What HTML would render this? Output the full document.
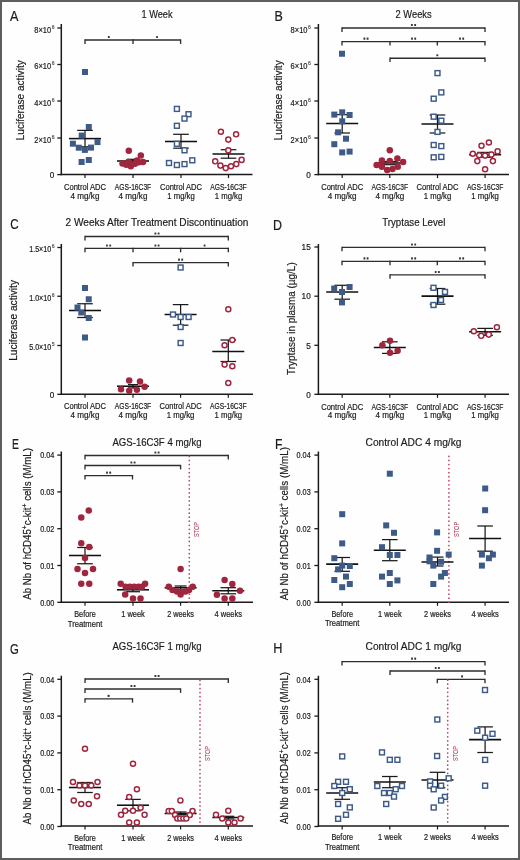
<!DOCTYPE html>
<html><head><meta charset="utf-8"><title>Figure</title>
<style>
html,body{margin:0;padding:0;background:#fff;}
body{width:520px;height:860px;overflow:hidden;}
.fig{position:relative;width:516px;height:856px;border:2px solid #5e5e5e;background:#fefefe;}
svg{position:absolute;left:-2px;top:-2px;will-change:transform;}
svg text{font-family:"Liberation Sans", sans-serif;stroke-width:0.2px;}
</style></head>
<body><div class="fig">
<svg width="520" height="860" viewBox="0 0 520 860">
<text x="9.9" y="21.0" font-size="14.5" textLength="8.4" lengthAdjust="spacingAndGlyphs" fill="#1c1c1c" stroke="#1c1c1c">A</text>
<text x="157" y="17.7" font-size="11.5" text-anchor="middle" textLength="31" lengthAdjust="spacingAndGlyphs" fill="#1c1c1c" stroke="#1c1c1c">1 Week</text>
<line x1="61.3" y1="24" x2="61.3" y2="175.2" stroke="#1a1a1a" stroke-width="1.5"/>
<line x1="60.599999999999994" y1="174.6" x2="252.5" y2="174.6" stroke="#1a1a1a" stroke-width="1.5"/>
<line x1="57.3" y1="28" x2="61.3" y2="28" stroke="#1a1a1a" stroke-width="1.3"/>
<text x="51.199999999999996" y="32.6" font-size="8.2" text-anchor="end" textLength="16.9" lengthAdjust="spacingAndGlyphs" fill="#1c1c1c" stroke="#1c1c1c">8×10</text>
<text x="54.5" y="28.9" font-size="5.0" text-anchor="end" fill="#555" stroke="#555">6</text>
<line x1="57.3" y1="64.5" x2="61.3" y2="64.5" stroke="#1a1a1a" stroke-width="1.3"/>
<text x="51.199999999999996" y="69.1" font-size="8.2" text-anchor="end" textLength="16.9" lengthAdjust="spacingAndGlyphs" fill="#1c1c1c" stroke="#1c1c1c">6×10</text>
<text x="54.5" y="65.4" font-size="5.0" text-anchor="end" fill="#555" stroke="#555">6</text>
<line x1="57.3" y1="101" x2="61.3" y2="101" stroke="#1a1a1a" stroke-width="1.3"/>
<text x="51.199999999999996" y="105.6" font-size="8.2" text-anchor="end" textLength="16.9" lengthAdjust="spacingAndGlyphs" fill="#1c1c1c" stroke="#1c1c1c">4×10</text>
<text x="54.5" y="101.9" font-size="5.0" text-anchor="end" fill="#555" stroke="#555">6</text>
<line x1="57.3" y1="138" x2="61.3" y2="138" stroke="#1a1a1a" stroke-width="1.3"/>
<text x="51.199999999999996" y="142.6" font-size="8.2" text-anchor="end" textLength="16.9" lengthAdjust="spacingAndGlyphs" fill="#1c1c1c" stroke="#1c1c1c">2×10</text>
<text x="54.5" y="138.9" font-size="5.0" text-anchor="end" fill="#555" stroke="#555">6</text>
<line x1="57.3" y1="174.6" x2="61.3" y2="174.6" stroke="#1a1a1a" stroke-width="1.3"/>
<text x="54.4" y="177.79999999999998" font-size="8.2" text-anchor="end" fill="#1c1c1c" stroke="#1c1c1c">0</text>
<line x1="85" y1="174.6" x2="85" y2="178.1" stroke="#1a1a1a" stroke-width="1.2"/>
<line x1="133" y1="174.6" x2="133" y2="178.1" stroke="#1a1a1a" stroke-width="1.2"/>
<line x1="181" y1="174.6" x2="181" y2="178.1" stroke="#1a1a1a" stroke-width="1.2"/>
<line x1="228.5" y1="174.6" x2="228.5" y2="178.1" stroke="#1a1a1a" stroke-width="1.2"/>
<text x="24.3" y="100.3" font-size="10.5" text-anchor="middle" textLength="80" lengthAdjust="spacingAndGlyphs" transform="rotate(-90 24.3 100.3)" fill="#1c1c1c" stroke="#1c1c1c">Luciferase activity</text>
<text x="85" y="190.1" font-size="8.8" text-anchor="middle" textLength="42" lengthAdjust="spacingAndGlyphs" fill="#1c1c1c" stroke="#1c1c1c">Control ADC</text>
<text x="85" y="198.7" font-size="8.8" text-anchor="middle" textLength="28.8" lengthAdjust="spacingAndGlyphs" fill="#1c1c1c" stroke="#1c1c1c">4 mg/kg</text>
<text x="133" y="190.1" font-size="8.8" text-anchor="middle" textLength="36.4" lengthAdjust="spacingAndGlyphs" fill="#1c1c1c" stroke="#1c1c1c">AGS-16C3F</text>
<text x="133" y="198.7" font-size="8.8" text-anchor="middle" textLength="28.8" lengthAdjust="spacingAndGlyphs" fill="#1c1c1c" stroke="#1c1c1c">4 mg/kg</text>
<text x="181" y="190.1" font-size="8.8" text-anchor="middle" textLength="42" lengthAdjust="spacingAndGlyphs" fill="#1c1c1c" stroke="#1c1c1c">Control ADC</text>
<text x="181" y="198.7" font-size="8.8" text-anchor="middle" textLength="27.5" lengthAdjust="spacingAndGlyphs" fill="#1c1c1c" stroke="#1c1c1c">1 mg/kg</text>
<text x="228.5" y="190.1" font-size="8.8" text-anchor="middle" textLength="36.4" lengthAdjust="spacingAndGlyphs" fill="#1c1c1c" stroke="#1c1c1c">AGS-16C3F</text>
<text x="228.5" y="198.7" font-size="8.8" text-anchor="middle" textLength="27.5" lengthAdjust="spacingAndGlyphs" fill="#1c1c1c" stroke="#1c1c1c">1 mg/kg</text>
<line x1="85" y1="40" x2="180.6" y2="40" stroke="#2e2e2e" stroke-width="1.35"/>
<line x1="85" y1="39.35" x2="85" y2="43.9" stroke="#2e2e2e" stroke-width="1.35"/>
<line x1="180.6" y1="39.35" x2="180.6" y2="43.9" stroke="#2e2e2e" stroke-width="1.35"/>
<line x1="133" y1="39.35" x2="133" y2="43.9" stroke="#2e2e2e" stroke-width="1.35"/>
<rect x="107.85" y="36.00" width="1.9" height="2.1" rx="0.5" fill="#3a3a3a"/>
<rect x="156.05" y="36.00" width="1.9" height="2.1" rx="0.5" fill="#3a3a3a"/>
<line x1="85" y1="130.4" x2="85" y2="146.8" stroke="#1a1a1a" stroke-width="1.25"/>
<line x1="77.2" y1="130.4" x2="92.8" y2="130.4" stroke="#1a1a1a" stroke-width="1.25"/>
<line x1="77.2" y1="146.8" x2="92.8" y2="146.8" stroke="#1a1a1a" stroke-width="1.25"/>
<line x1="69" y1="138.6" x2="101" y2="138.6" stroke="#111" stroke-width="1.55"/>
<line x1="133" y1="159.3" x2="133" y2="162.8" stroke="#1a1a1a" stroke-width="1.25"/>
<line x1="127" y1="159.3" x2="139" y2="159.3" stroke="#1a1a1a" stroke-width="1.25"/>
<line x1="127" y1="162.8" x2="139" y2="162.8" stroke="#1a1a1a" stroke-width="1.25"/>
<line x1="117" y1="161" x2="149" y2="161" stroke="#111" stroke-width="1.55"/>
<line x1="181" y1="134.3" x2="181" y2="148.2" stroke="#1a1a1a" stroke-width="1.25"/>
<line x1="173.2" y1="134.3" x2="188.8" y2="134.3" stroke="#1a1a1a" stroke-width="1.25"/>
<line x1="173.2" y1="148.2" x2="188.8" y2="148.2" stroke="#1a1a1a" stroke-width="1.25"/>
<line x1="165" y1="141.5" x2="197" y2="141.5" stroke="#111" stroke-width="1.55"/>
<line x1="228.5" y1="149.7" x2="228.5" y2="158.2" stroke="#1a1a1a" stroke-width="1.25"/>
<line x1="220.7" y1="149.7" x2="236.3" y2="149.7" stroke="#1a1a1a" stroke-width="1.25"/>
<line x1="220.7" y1="158.2" x2="236.3" y2="158.2" stroke="#1a1a1a" stroke-width="1.25"/>
<line x1="212.5" y1="153.9" x2="244.5" y2="153.9" stroke="#111" stroke-width="1.55"/>
<text x="274.4" y="21.0" font-size="14.5" textLength="8.3" lengthAdjust="spacingAndGlyphs" fill="#1c1c1c" stroke="#1c1c1c">B</text>
<text x="413.6" y="17.7" font-size="11.5" text-anchor="middle" textLength="36.1" lengthAdjust="spacingAndGlyphs" fill="#1c1c1c" stroke="#1c1c1c">2 Weeks</text>
<line x1="318.4" y1="24" x2="318.4" y2="175.2" stroke="#1a1a1a" stroke-width="1.5"/>
<line x1="317.7" y1="174.6" x2="509" y2="174.6" stroke="#1a1a1a" stroke-width="1.5"/>
<line x1="314.4" y1="28" x2="318.4" y2="28" stroke="#1a1a1a" stroke-width="1.3"/>
<text x="307.49999999999994" y="32.6" font-size="8.2" text-anchor="end" textLength="16.9" lengthAdjust="spacingAndGlyphs" fill="#1c1c1c" stroke="#1c1c1c">8×10</text>
<text x="310.79999999999995" y="28.9" font-size="5.0" text-anchor="end" fill="#555" stroke="#555">6</text>
<line x1="314.4" y1="64.5" x2="318.4" y2="64.5" stroke="#1a1a1a" stroke-width="1.3"/>
<text x="307.49999999999994" y="69.1" font-size="8.2" text-anchor="end" textLength="16.9" lengthAdjust="spacingAndGlyphs" fill="#1c1c1c" stroke="#1c1c1c">6×10</text>
<text x="310.79999999999995" y="65.4" font-size="5.0" text-anchor="end" fill="#555" stroke="#555">6</text>
<line x1="314.4" y1="101" x2="318.4" y2="101" stroke="#1a1a1a" stroke-width="1.3"/>
<text x="307.49999999999994" y="105.6" font-size="8.2" text-anchor="end" textLength="16.9" lengthAdjust="spacingAndGlyphs" fill="#1c1c1c" stroke="#1c1c1c">4×10</text>
<text x="310.79999999999995" y="101.9" font-size="5.0" text-anchor="end" fill="#555" stroke="#555">6</text>
<line x1="314.4" y1="138" x2="318.4" y2="138" stroke="#1a1a1a" stroke-width="1.3"/>
<text x="307.49999999999994" y="142.6" font-size="8.2" text-anchor="end" textLength="16.9" lengthAdjust="spacingAndGlyphs" fill="#1c1c1c" stroke="#1c1c1c">2×10</text>
<text x="310.79999999999995" y="138.9" font-size="5.0" text-anchor="end" fill="#555" stroke="#555">6</text>
<line x1="314.4" y1="174.6" x2="318.4" y2="174.6" stroke="#1a1a1a" stroke-width="1.3"/>
<text x="310.7" y="177.79999999999998" font-size="8.2" text-anchor="end" fill="#1c1c1c" stroke="#1c1c1c">0</text>
<line x1="342.2" y1="174.6" x2="342.2" y2="178.1" stroke="#1a1a1a" stroke-width="1.2"/>
<line x1="389.8" y1="174.6" x2="389.8" y2="178.1" stroke="#1a1a1a" stroke-width="1.2"/>
<line x1="437.5" y1="174.6" x2="437.5" y2="178.1" stroke="#1a1a1a" stroke-width="1.2"/>
<line x1="485.1" y1="174.6" x2="485.1" y2="178.1" stroke="#1a1a1a" stroke-width="1.2"/>
<text x="281.8" y="100.3" font-size="10.5" text-anchor="middle" textLength="80" lengthAdjust="spacingAndGlyphs" transform="rotate(-90 281.8 100.3)" fill="#1c1c1c" stroke="#1c1c1c">Luciferase activity</text>
<text x="342.2" y="189.9" font-size="8.8" text-anchor="middle" textLength="42" lengthAdjust="spacingAndGlyphs" fill="#1c1c1c" stroke="#1c1c1c">Control ADC</text>
<text x="342.2" y="198.5" font-size="8.8" text-anchor="middle" textLength="28.8" lengthAdjust="spacingAndGlyphs" fill="#1c1c1c" stroke="#1c1c1c">4 mg/kg</text>
<text x="389.8" y="189.9" font-size="8.8" text-anchor="middle" textLength="36.4" lengthAdjust="spacingAndGlyphs" fill="#1c1c1c" stroke="#1c1c1c">AGS-16C3F</text>
<text x="389.8" y="198.5" font-size="8.8" text-anchor="middle" textLength="28.8" lengthAdjust="spacingAndGlyphs" fill="#1c1c1c" stroke="#1c1c1c">4 mg/kg</text>
<text x="437.5" y="189.9" font-size="8.8" text-anchor="middle" textLength="42" lengthAdjust="spacingAndGlyphs" fill="#1c1c1c" stroke="#1c1c1c">Control ADC</text>
<text x="437.5" y="198.5" font-size="8.8" text-anchor="middle" textLength="27.5" lengthAdjust="spacingAndGlyphs" fill="#1c1c1c" stroke="#1c1c1c">1 mg/kg</text>
<text x="485.1" y="189.9" font-size="8.8" text-anchor="middle" textLength="36.4" lengthAdjust="spacingAndGlyphs" fill="#1c1c1c" stroke="#1c1c1c">AGS-16C3F</text>
<text x="485.1" y="198.5" font-size="8.8" text-anchor="middle" textLength="27.5" lengthAdjust="spacingAndGlyphs" fill="#1c1c1c" stroke="#1c1c1c">1 mg/kg</text>
<line x1="342" y1="28" x2="485" y2="28" stroke="#2e2e2e" stroke-width="1.35"/>
<line x1="342" y1="27.35" x2="342" y2="31.9" stroke="#2e2e2e" stroke-width="1.35"/>
<line x1="485" y1="27.35" x2="485" y2="31.9" stroke="#2e2e2e" stroke-width="1.35"/>
<rect x="410.95" y="24.00" width="1.9" height="2.1" rx="0.5" fill="#3a3a3a"/>
<rect x="414.15" y="24.00" width="1.9" height="2.1" rx="0.5" fill="#3a3a3a"/>
<line x1="342" y1="41.6" x2="485" y2="41.6" stroke="#2e2e2e" stroke-width="1.35"/>
<line x1="342" y1="40.95" x2="342" y2="45.5" stroke="#2e2e2e" stroke-width="1.35"/>
<line x1="485" y1="40.95" x2="485" y2="45.5" stroke="#2e2e2e" stroke-width="1.35"/>
<line x1="390" y1="40.95" x2="390" y2="45.5" stroke="#2e2e2e" stroke-width="1.35"/>
<line x1="437.3" y1="40.95" x2="437.3" y2="45.5" stroke="#2e2e2e" stroke-width="1.35"/>
<rect x="363.45" y="37.60" width="1.9" height="2.1" rx="0.5" fill="#3a3a3a"/>
<rect x="366.65" y="37.60" width="1.9" height="2.1" rx="0.5" fill="#3a3a3a"/>
<rect x="411.05" y="37.60" width="1.9" height="2.1" rx="0.5" fill="#3a3a3a"/>
<rect x="414.25" y="37.60" width="1.9" height="2.1" rx="0.5" fill="#3a3a3a"/>
<rect x="459.05" y="37.60" width="1.9" height="2.1" rx="0.5" fill="#3a3a3a"/>
<rect x="462.25" y="37.60" width="1.9" height="2.1" rx="0.5" fill="#3a3a3a"/>
<line x1="390" y1="58.2" x2="485" y2="58.2" stroke="#2e2e2e" stroke-width="1.35"/>
<line x1="390" y1="57.550000000000004" x2="390" y2="62.1" stroke="#2e2e2e" stroke-width="1.35"/>
<line x1="485" y1="57.550000000000004" x2="485" y2="62.1" stroke="#2e2e2e" stroke-width="1.35"/>
<rect x="436.35" y="54.20" width="1.9" height="2.1" rx="0.5" fill="#3a3a3a"/>
<line x1="342.2" y1="114.6" x2="342.2" y2="133" stroke="#1a1a1a" stroke-width="1.25"/>
<line x1="334.4" y1="114.6" x2="350.0" y2="114.6" stroke="#1a1a1a" stroke-width="1.25"/>
<line x1="334.4" y1="133" x2="350.0" y2="133" stroke="#1a1a1a" stroke-width="1.25"/>
<line x1="326.2" y1="123.5" x2="358.2" y2="123.5" stroke="#111" stroke-width="1.55"/>
<line x1="389.8" y1="161.5" x2="389.8" y2="164.7" stroke="#1a1a1a" stroke-width="1.25"/>
<line x1="382.0" y1="161.5" x2="397.6" y2="161.5" stroke="#1a1a1a" stroke-width="1.25"/>
<line x1="382.0" y1="164.7" x2="397.6" y2="164.7" stroke="#1a1a1a" stroke-width="1.25"/>
<line x1="376.8" y1="163" x2="402.8" y2="163" stroke="#111" stroke-width="1.55"/>
<line x1="437.5" y1="115" x2="437.5" y2="133" stroke="#1a1a1a" stroke-width="1.25"/>
<line x1="429.7" y1="115" x2="445.3" y2="115" stroke="#1a1a1a" stroke-width="1.25"/>
<line x1="429.7" y1="133" x2="445.3" y2="133" stroke="#1a1a1a" stroke-width="1.25"/>
<line x1="421.5" y1="123.9" x2="453.5" y2="123.9" stroke="#111" stroke-width="1.55"/>
<line x1="485.1" y1="152.4" x2="485.1" y2="157.3" stroke="#1a1a1a" stroke-width="1.25"/>
<line x1="477.3" y1="152.4" x2="492.90000000000003" y2="152.4" stroke="#1a1a1a" stroke-width="1.25"/>
<line x1="477.3" y1="157.3" x2="492.90000000000003" y2="157.3" stroke="#1a1a1a" stroke-width="1.25"/>
<line x1="469.1" y1="154.8" x2="501.1" y2="154.8" stroke="#111" stroke-width="1.55"/>
<text x="10.3" y="229.3" font-size="14.5" textLength="8.4" lengthAdjust="spacingAndGlyphs" fill="#1c1c1c" stroke="#1c1c1c">C</text>
<text x="157" y="226.0" font-size="11.5" text-anchor="middle" textLength="182.8" lengthAdjust="spacingAndGlyphs" fill="#1c1c1c" stroke="#1c1c1c">2 Weeks After Treatment Discontinuation</text>
<line x1="61.3" y1="244" x2="61.3" y2="394.90000000000003" stroke="#1a1a1a" stroke-width="1.5"/>
<line x1="60.599999999999994" y1="394.3" x2="253" y2="394.3" stroke="#1a1a1a" stroke-width="1.5"/>
<line x1="57.3" y1="247.5" x2="61.3" y2="247.5" stroke="#1a1a1a" stroke-width="1.3"/>
<text x="51.199999999999996" y="252.1" font-size="8.2" text-anchor="end" textLength="22.0" lengthAdjust="spacingAndGlyphs" fill="#1c1c1c" stroke="#1c1c1c">1.5×10</text>
<text x="54.5" y="248.4" font-size="5.0" text-anchor="end" fill="#555" stroke="#555">6</text>
<line x1="57.3" y1="296.25" x2="61.3" y2="296.25" stroke="#1a1a1a" stroke-width="1.3"/>
<text x="51.199999999999996" y="300.85" font-size="8.2" text-anchor="end" textLength="22.0" lengthAdjust="spacingAndGlyphs" fill="#1c1c1c" stroke="#1c1c1c">1.0×10</text>
<text x="54.5" y="297.15" font-size="5.0" text-anchor="end" fill="#555" stroke="#555">6</text>
<line x1="57.3" y1="345.5" x2="61.3" y2="345.5" stroke="#1a1a1a" stroke-width="1.3"/>
<text x="51.199999999999996" y="350.1" font-size="8.2" text-anchor="end" textLength="22.0" lengthAdjust="spacingAndGlyphs" fill="#1c1c1c" stroke="#1c1c1c">5.0×10</text>
<text x="54.5" y="346.4" font-size="5.0" text-anchor="end" fill="#555" stroke="#555">5</text>
<line x1="57.3" y1="394.3" x2="61.3" y2="394.3" stroke="#1a1a1a" stroke-width="1.3"/>
<text x="54.4" y="397.5" font-size="8.2" text-anchor="end" fill="#1c1c1c" stroke="#1c1c1c">0</text>
<line x1="85" y1="394.3" x2="85" y2="397.8" stroke="#1a1a1a" stroke-width="1.2"/>
<line x1="133" y1="394.3" x2="133" y2="397.8" stroke="#1a1a1a" stroke-width="1.2"/>
<line x1="180.6" y1="394.3" x2="180.6" y2="397.8" stroke="#1a1a1a" stroke-width="1.2"/>
<line x1="228.3" y1="394.3" x2="228.3" y2="397.8" stroke="#1a1a1a" stroke-width="1.2"/>
<text x="17.3" y="320.4" font-size="10.5" text-anchor="middle" textLength="80.8" lengthAdjust="spacingAndGlyphs" transform="rotate(-90 17.3 320.4)" fill="#1c1c1c" stroke="#1c1c1c">Luciferase activity</text>
<text x="85" y="409.40000000000003" font-size="8.8" text-anchor="middle" textLength="42" lengthAdjust="spacingAndGlyphs" fill="#1c1c1c" stroke="#1c1c1c">Control ADC</text>
<text x="85" y="418.0" font-size="8.8" text-anchor="middle" textLength="28.8" lengthAdjust="spacingAndGlyphs" fill="#1c1c1c" stroke="#1c1c1c">4 mg/kg</text>
<text x="133" y="409.40000000000003" font-size="8.8" text-anchor="middle" textLength="36.4" lengthAdjust="spacingAndGlyphs" fill="#1c1c1c" stroke="#1c1c1c">AGS-16C3F</text>
<text x="133" y="418.0" font-size="8.8" text-anchor="middle" textLength="28.8" lengthAdjust="spacingAndGlyphs" fill="#1c1c1c" stroke="#1c1c1c">4 mg/kg</text>
<text x="180.6" y="409.40000000000003" font-size="8.8" text-anchor="middle" textLength="42" lengthAdjust="spacingAndGlyphs" fill="#1c1c1c" stroke="#1c1c1c">Control ADC</text>
<text x="180.6" y="418.0" font-size="8.8" text-anchor="middle" textLength="27.5" lengthAdjust="spacingAndGlyphs" fill="#1c1c1c" stroke="#1c1c1c">1 mg/kg</text>
<text x="228.3" y="409.40000000000003" font-size="8.8" text-anchor="middle" textLength="36.4" lengthAdjust="spacingAndGlyphs" fill="#1c1c1c" stroke="#1c1c1c">AGS-16C3F</text>
<text x="228.3" y="418.0" font-size="8.8" text-anchor="middle" textLength="27.5" lengthAdjust="spacingAndGlyphs" fill="#1c1c1c" stroke="#1c1c1c">1 mg/kg</text>
<line x1="85" y1="236.5" x2="228.3" y2="236.5" stroke="#2e2e2e" stroke-width="1.35"/>
<line x1="85" y1="235.85" x2="85" y2="240.4" stroke="#2e2e2e" stroke-width="1.35"/>
<line x1="228.3" y1="235.85" x2="228.3" y2="240.4" stroke="#2e2e2e" stroke-width="1.35"/>
<rect x="154.45" y="232.50" width="1.9" height="2.1" rx="0.5" fill="#3a3a3a"/>
<rect x="157.65" y="232.50" width="1.9" height="2.1" rx="0.5" fill="#3a3a3a"/>
<line x1="85" y1="248.4" x2="228.3" y2="248.4" stroke="#2e2e2e" stroke-width="1.35"/>
<line x1="85" y1="247.75" x2="85" y2="252.3" stroke="#2e2e2e" stroke-width="1.35"/>
<line x1="228.3" y1="247.75" x2="228.3" y2="252.3" stroke="#2e2e2e" stroke-width="1.35"/>
<line x1="133" y1="247.75" x2="133" y2="252.3" stroke="#2e2e2e" stroke-width="1.35"/>
<line x1="180.6" y1="247.75" x2="180.6" y2="252.3" stroke="#2e2e2e" stroke-width="1.35"/>
<rect x="106.05" y="244.40" width="1.9" height="2.1" rx="0.5" fill="#3a3a3a"/>
<rect x="109.25" y="244.40" width="1.9" height="2.1" rx="0.5" fill="#3a3a3a"/>
<rect x="154.45" y="244.40" width="1.9" height="2.1" rx="0.5" fill="#3a3a3a"/>
<rect x="157.65" y="244.40" width="1.9" height="2.1" rx="0.5" fill="#3a3a3a"/>
<rect x="203.65" y="244.40" width="1.9" height="2.1" rx="0.5" fill="#3a3a3a"/>
<line x1="133" y1="262.6" x2="228.3" y2="262.6" stroke="#2e2e2e" stroke-width="1.35"/>
<line x1="133" y1="261.95000000000005" x2="133" y2="266.5" stroke="#2e2e2e" stroke-width="1.35"/>
<line x1="228.3" y1="261.95000000000005" x2="228.3" y2="266.5" stroke="#2e2e2e" stroke-width="1.35"/>
<rect x="178.05" y="258.60" width="1.9" height="2.1" rx="0.5" fill="#3a3a3a"/>
<rect x="181.25" y="258.60" width="1.9" height="2.1" rx="0.5" fill="#3a3a3a"/>
<line x1="85" y1="303.75" x2="85" y2="317.5" stroke="#1a1a1a" stroke-width="1.25"/>
<line x1="77.2" y1="303.75" x2="92.8" y2="303.75" stroke="#1a1a1a" stroke-width="1.25"/>
<line x1="77.2" y1="317.5" x2="92.8" y2="317.5" stroke="#1a1a1a" stroke-width="1.25"/>
<line x1="69" y1="310.5" x2="101" y2="310.5" stroke="#111" stroke-width="1.55"/>
<line x1="133" y1="384.6" x2="133" y2="388" stroke="#1a1a1a" stroke-width="1.25"/>
<line x1="128" y1="384.6" x2="138" y2="384.6" stroke="#1a1a1a" stroke-width="1.25"/>
<line x1="128" y1="388" x2="138" y2="388" stroke="#1a1a1a" stroke-width="1.25"/>
<line x1="117" y1="386.2" x2="149" y2="386.2" stroke="#111" stroke-width="1.55"/>
<line x1="180.6" y1="304.6" x2="180.6" y2="325.2" stroke="#1a1a1a" stroke-width="1.25"/>
<line x1="172.79999999999998" y1="304.6" x2="188.4" y2="304.6" stroke="#1a1a1a" stroke-width="1.25"/>
<line x1="172.79999999999998" y1="325.2" x2="188.4" y2="325.2" stroke="#1a1a1a" stroke-width="1.25"/>
<line x1="164.6" y1="314.5" x2="196.6" y2="314.5" stroke="#111" stroke-width="1.55"/>
<line x1="228.3" y1="340" x2="228.3" y2="361.5" stroke="#1a1a1a" stroke-width="1.25"/>
<line x1="220.5" y1="340" x2="236.10000000000002" y2="340" stroke="#1a1a1a" stroke-width="1.25"/>
<line x1="220.5" y1="361.5" x2="236.10000000000002" y2="361.5" stroke="#1a1a1a" stroke-width="1.25"/>
<line x1="212.3" y1="351.4" x2="244.3" y2="351.4" stroke="#111" stroke-width="1.55"/>
<text x="273.0" y="229.6" font-size="14.5" textLength="9.0" lengthAdjust="spacingAndGlyphs" fill="#1c1c1c" stroke="#1c1c1c">D</text>
<text x="413.8" y="226.0" font-size="11.5" text-anchor="middle" textLength="63.2" lengthAdjust="spacingAndGlyphs" fill="#1c1c1c" stroke="#1c1c1c">Tryptase Level</text>
<line x1="318.4" y1="244" x2="318.4" y2="394.90000000000003" stroke="#1a1a1a" stroke-width="1.5"/>
<line x1="317.7" y1="394.3" x2="509" y2="394.3" stroke="#1a1a1a" stroke-width="1.5"/>
<line x1="314.4" y1="247" x2="318.4" y2="247" stroke="#1a1a1a" stroke-width="1.3"/>
<text x="310.7" y="250.2" font-size="8.2" text-anchor="end" fill="#1c1c1c" stroke="#1c1c1c">15</text>
<line x1="314.4" y1="296.2" x2="318.4" y2="296.2" stroke="#1a1a1a" stroke-width="1.3"/>
<text x="310.7" y="299.4" font-size="8.2" text-anchor="end" fill="#1c1c1c" stroke="#1c1c1c">10</text>
<line x1="314.4" y1="345.3" x2="318.4" y2="345.3" stroke="#1a1a1a" stroke-width="1.3"/>
<text x="310.7" y="348.5" font-size="8.2" text-anchor="end" fill="#1c1c1c" stroke="#1c1c1c">5</text>
<line x1="314.4" y1="394.3" x2="318.4" y2="394.3" stroke="#1a1a1a" stroke-width="1.3"/>
<text x="310.7" y="397.5" font-size="8.2" text-anchor="end" fill="#1c1c1c" stroke="#1c1c1c">0</text>
<line x1="342.2" y1="394.3" x2="342.2" y2="397.8" stroke="#1a1a1a" stroke-width="1.2"/>
<line x1="389.8" y1="394.3" x2="389.8" y2="397.8" stroke="#1a1a1a" stroke-width="1.2"/>
<line x1="437.5" y1="394.3" x2="437.5" y2="397.8" stroke="#1a1a1a" stroke-width="1.2"/>
<line x1="485.1" y1="394.3" x2="485.1" y2="397.8" stroke="#1a1a1a" stroke-width="1.2"/>
<text x="294.8" y="318.6" font-size="10.5" text-anchor="middle" textLength="112.6" lengthAdjust="spacingAndGlyphs" transform="rotate(-90 294.8 318.6)" fill="#1c1c1c" stroke="#1c1c1c">Tryptase in plasma (µg/L)</text>
<text x="342.2" y="409.8" font-size="8.8" text-anchor="middle" textLength="42" lengthAdjust="spacingAndGlyphs" fill="#1c1c1c" stroke="#1c1c1c">Control ADC</text>
<text x="342.2" y="418.4" font-size="8.8" text-anchor="middle" textLength="28.8" lengthAdjust="spacingAndGlyphs" fill="#1c1c1c" stroke="#1c1c1c">4 mg/kg</text>
<text x="389.8" y="409.8" font-size="8.8" text-anchor="middle" textLength="36.4" lengthAdjust="spacingAndGlyphs" fill="#1c1c1c" stroke="#1c1c1c">AGS-16C3F</text>
<text x="389.8" y="418.4" font-size="8.8" text-anchor="middle" textLength="28.8" lengthAdjust="spacingAndGlyphs" fill="#1c1c1c" stroke="#1c1c1c">4 mg/kg</text>
<text x="437.5" y="409.8" font-size="8.8" text-anchor="middle" textLength="42" lengthAdjust="spacingAndGlyphs" fill="#1c1c1c" stroke="#1c1c1c">Control ADC</text>
<text x="437.5" y="418.4" font-size="8.8" text-anchor="middle" textLength="27.5" lengthAdjust="spacingAndGlyphs" fill="#1c1c1c" stroke="#1c1c1c">1 mg/kg</text>
<text x="485.1" y="409.8" font-size="8.8" text-anchor="middle" textLength="36.4" lengthAdjust="spacingAndGlyphs" fill="#1c1c1c" stroke="#1c1c1c">AGS-16C3F</text>
<text x="485.1" y="418.4" font-size="8.8" text-anchor="middle" textLength="27.5" lengthAdjust="spacingAndGlyphs" fill="#1c1c1c" stroke="#1c1c1c">1 mg/kg</text>
<line x1="342" y1="247.4" x2="485" y2="247.4" stroke="#2e2e2e" stroke-width="1.35"/>
<line x1="342" y1="246.75" x2="342" y2="251.3" stroke="#2e2e2e" stroke-width="1.35"/>
<line x1="485" y1="246.75" x2="485" y2="251.3" stroke="#2e2e2e" stroke-width="1.35"/>
<rect x="411.05" y="243.40" width="1.9" height="2.1" rx="0.5" fill="#3a3a3a"/>
<rect x="414.25" y="243.40" width="1.9" height="2.1" rx="0.5" fill="#3a3a3a"/>
<line x1="342" y1="261.3" x2="485" y2="261.3" stroke="#2e2e2e" stroke-width="1.35"/>
<line x1="342" y1="260.65000000000003" x2="342" y2="265.2" stroke="#2e2e2e" stroke-width="1.35"/>
<line x1="485" y1="260.65000000000003" x2="485" y2="265.2" stroke="#2e2e2e" stroke-width="1.35"/>
<line x1="390" y1="260.65000000000003" x2="390" y2="265.2" stroke="#2e2e2e" stroke-width="1.35"/>
<line x1="437.3" y1="260.65000000000003" x2="437.3" y2="265.2" stroke="#2e2e2e" stroke-width="1.35"/>
<rect x="363.45" y="257.30" width="1.9" height="2.1" rx="0.5" fill="#3a3a3a"/>
<rect x="366.65" y="257.30" width="1.9" height="2.1" rx="0.5" fill="#3a3a3a"/>
<rect x="411.05" y="257.30" width="1.9" height="2.1" rx="0.5" fill="#3a3a3a"/>
<rect x="414.25" y="257.30" width="1.9" height="2.1" rx="0.5" fill="#3a3a3a"/>
<rect x="459.05" y="257.30" width="1.9" height="2.1" rx="0.5" fill="#3a3a3a"/>
<rect x="462.25" y="257.30" width="1.9" height="2.1" rx="0.5" fill="#3a3a3a"/>
<line x1="390" y1="274.9" x2="485" y2="274.9" stroke="#2e2e2e" stroke-width="1.35"/>
<line x1="390" y1="274.25" x2="390" y2="278.79999999999995" stroke="#2e2e2e" stroke-width="1.35"/>
<line x1="485" y1="274.25" x2="485" y2="278.79999999999995" stroke="#2e2e2e" stroke-width="1.35"/>
<rect x="434.75" y="270.90" width="1.9" height="2.1" rx="0.5" fill="#3a3a3a"/>
<rect x="437.95" y="270.90" width="1.9" height="2.1" rx="0.5" fill="#3a3a3a"/>
<line x1="342.2" y1="285.3" x2="342.2" y2="299.2" stroke="#1a1a1a" stroke-width="1.25"/>
<line x1="334.4" y1="285.3" x2="350.0" y2="285.3" stroke="#1a1a1a" stroke-width="1.25"/>
<line x1="334.4" y1="299.2" x2="350.0" y2="299.2" stroke="#1a1a1a" stroke-width="1.25"/>
<line x1="326.2" y1="292" x2="358.2" y2="292" stroke="#111" stroke-width="1.55"/>
<line x1="389.8" y1="341.8" x2="389.8" y2="353.4" stroke="#1a1a1a" stroke-width="1.25"/>
<line x1="382.0" y1="341.8" x2="397.6" y2="341.8" stroke="#1a1a1a" stroke-width="1.25"/>
<line x1="382.0" y1="353.4" x2="397.6" y2="353.4" stroke="#1a1a1a" stroke-width="1.25"/>
<line x1="373.8" y1="347.4" x2="405.8" y2="347.4" stroke="#111" stroke-width="1.55"/>
<line x1="437.5" y1="288.5" x2="437.5" y2="304.2" stroke="#1a1a1a" stroke-width="1.25"/>
<line x1="429.7" y1="288.5" x2="445.3" y2="288.5" stroke="#1a1a1a" stroke-width="1.25"/>
<line x1="429.7" y1="304.2" x2="445.3" y2="304.2" stroke="#1a1a1a" stroke-width="1.25"/>
<line x1="421.5" y1="296.1" x2="453.5" y2="296.1" stroke="#111" stroke-width="1.55"/>
<line x1="485.1" y1="328.4" x2="485.1" y2="335.3" stroke="#1a1a1a" stroke-width="1.25"/>
<line x1="477.3" y1="328.4" x2="492.90000000000003" y2="328.4" stroke="#1a1a1a" stroke-width="1.25"/>
<line x1="477.3" y1="335.3" x2="492.90000000000003" y2="335.3" stroke="#1a1a1a" stroke-width="1.25"/>
<line x1="469.1" y1="331.8" x2="501.1" y2="331.8" stroke="#111" stroke-width="1.55"/>
<text x="11.9" y="448.8" font-size="14.5" textLength="6.9" lengthAdjust="spacingAndGlyphs" fill="#1c1c1c" stroke="#1c1c1c">E</text>
<text x="157" y="445.8" font-size="11.5" text-anchor="middle" textLength="89.2" lengthAdjust="spacingAndGlyphs" fill="#1c1c1c" stroke="#1c1c1c">AGS-16C3F 4 mg/kg</text>
<line x1="61.3" y1="451.5" x2="61.3" y2="602.9" stroke="#1a1a1a" stroke-width="1.5"/>
<line x1="60.599999999999994" y1="602.3" x2="253" y2="602.3" stroke="#1a1a1a" stroke-width="1.5"/>
<line x1="57.3" y1="455.1" x2="61.3" y2="455.1" stroke="#1a1a1a" stroke-width="1.3"/>
<text x="54.4" y="458.3" font-size="8.2" text-anchor="end" textLength="14.2" lengthAdjust="spacingAndGlyphs" fill="#1c1c1c" stroke="#1c1c1c">0.04</text>
<line x1="57.3" y1="491.90000000000003" x2="61.3" y2="491.90000000000003" stroke="#1a1a1a" stroke-width="1.3"/>
<text x="54.4" y="495.1" font-size="8.2" text-anchor="end" textLength="14.2" lengthAdjust="spacingAndGlyphs" fill="#1c1c1c" stroke="#1c1c1c">0.03</text>
<line x1="57.3" y1="528.7" x2="61.3" y2="528.7" stroke="#1a1a1a" stroke-width="1.3"/>
<text x="54.4" y="531.9000000000001" font-size="8.2" text-anchor="end" textLength="14.2" lengthAdjust="spacingAndGlyphs" fill="#1c1c1c" stroke="#1c1c1c">0.02</text>
<line x1="57.3" y1="565.5" x2="61.3" y2="565.5" stroke="#1a1a1a" stroke-width="1.3"/>
<text x="54.4" y="568.7" font-size="8.2" text-anchor="end" textLength="14.2" lengthAdjust="spacingAndGlyphs" fill="#1c1c1c" stroke="#1c1c1c">0.01</text>
<line x1="57.3" y1="602.3" x2="61.3" y2="602.3" stroke="#1a1a1a" stroke-width="1.3"/>
<text x="54.4" y="605.5" font-size="8.2" text-anchor="end" textLength="14.2" lengthAdjust="spacingAndGlyphs" fill="#1c1c1c" stroke="#1c1c1c">0.00</text>
<line x1="85" y1="602.3" x2="85" y2="605.8" stroke="#1a1a1a" stroke-width="1.2"/>
<line x1="133" y1="602.3" x2="133" y2="605.8" stroke="#1a1a1a" stroke-width="1.2"/>
<line x1="180.6" y1="602.3" x2="180.6" y2="605.8" stroke="#1a1a1a" stroke-width="1.2"/>
<line x1="228.3" y1="602.3" x2="228.3" y2="605.8" stroke="#1a1a1a" stroke-width="1.2"/>
<text x="30.6" y="523.9" font-size="11" text-anchor="middle" textLength="151.6" lengthAdjust="spacingAndGlyphs" transform="rotate(-90 30.6 523.9)" fill="#1c1c1c" stroke="#1c1c1c">Ab Nb of hCD45<tspan font-size='7.6' dy='-3.6'>+</tspan><tspan dy='3.6'>c-kit</tspan><tspan font-size='7.6' dy='-3.6'>+</tspan><tspan dy='3.6'> cells (M/mL)</tspan></text>
<text x="85" y="617.0" font-size="8.8" text-anchor="middle" textLength="21.5" lengthAdjust="spacingAndGlyphs" fill="#1c1c1c" stroke="#1c1c1c">Before</text>
<text x="85" y="626.5999999999999" font-size="8.8" text-anchor="middle" textLength="34.5" lengthAdjust="spacingAndGlyphs" fill="#1c1c1c" stroke="#1c1c1c">Treatment</text>
<text x="133" y="617.0" font-size="8.8" text-anchor="middle" textLength="23.7" lengthAdjust="spacingAndGlyphs" fill="#1c1c1c" stroke="#1c1c1c">1 week</text>
<text x="180.6" y="617.0" font-size="8.8" text-anchor="middle" textLength="26.8" lengthAdjust="spacingAndGlyphs" fill="#1c1c1c" stroke="#1c1c1c">2 weeks</text>
<text x="228.3" y="617.0" font-size="8.8" text-anchor="middle" textLength="27.4" lengthAdjust="spacingAndGlyphs" fill="#1c1c1c" stroke="#1c1c1c">4 weeks</text>
<line x1="85" y1="455.5" x2="228.3" y2="455.5" stroke="#2e2e2e" stroke-width="1.35"/>
<line x1="85" y1="454.85" x2="85" y2="459.4" stroke="#2e2e2e" stroke-width="1.35"/>
<line x1="228.3" y1="454.85" x2="228.3" y2="459.4" stroke="#2e2e2e" stroke-width="1.35"/>
<rect x="154.45" y="451.50" width="1.9" height="2.1" rx="0.5" fill="#3a3a3a"/>
<rect x="157.65" y="451.50" width="1.9" height="2.1" rx="0.5" fill="#3a3a3a"/>
<line x1="85" y1="465.5" x2="180.6" y2="465.5" stroke="#2e2e2e" stroke-width="1.35"/>
<line x1="85" y1="464.85" x2="85" y2="469.4" stroke="#2e2e2e" stroke-width="1.35"/>
<line x1="180.6" y1="464.85" x2="180.6" y2="469.4" stroke="#2e2e2e" stroke-width="1.35"/>
<rect x="130.45" y="461.50" width="1.9" height="2.1" rx="0.5" fill="#3a3a3a"/>
<rect x="133.65" y="461.50" width="1.9" height="2.1" rx="0.5" fill="#3a3a3a"/>
<line x1="85" y1="475.6" x2="132.5" y2="475.6" stroke="#2e2e2e" stroke-width="1.35"/>
<line x1="85" y1="474.95000000000005" x2="85" y2="479.5" stroke="#2e2e2e" stroke-width="1.35"/>
<line x1="132.5" y1="474.95000000000005" x2="132.5" y2="479.5" stroke="#2e2e2e" stroke-width="1.35"/>
<rect x="106.05" y="471.60" width="1.9" height="2.1" rx="0.5" fill="#3a3a3a"/>
<rect x="109.25" y="471.60" width="1.9" height="2.1" rx="0.5" fill="#3a3a3a"/>
<line x1="189.3" y1="456.4" x2="189.3" y2="602.3" stroke="#bc4862" stroke-width="1.7" stroke-linecap="round" stroke-dasharray="0.05 4.00"/>
<text x="199.3" y="529.5" font-size="7" text-anchor="middle" textLength="15" lengthAdjust="spacingAndGlyphs" transform="rotate(-90 199.3 529.5)" fill="#b0455e" stroke="#b0455e" style="stroke-width:0.1px">STOP</text>
<line x1="85" y1="547.5" x2="85" y2="563.75" stroke="#1a1a1a" stroke-width="1.25"/>
<line x1="77.2" y1="547.5" x2="92.8" y2="547.5" stroke="#1a1a1a" stroke-width="1.25"/>
<line x1="77.2" y1="563.75" x2="92.8" y2="563.75" stroke="#1a1a1a" stroke-width="1.25"/>
<line x1="69" y1="555.5" x2="101" y2="555.5" stroke="#111" stroke-width="1.55"/>
<line x1="133" y1="586" x2="133" y2="591.7" stroke="#1a1a1a" stroke-width="1.25"/>
<line x1="126" y1="586" x2="140" y2="586" stroke="#1a1a1a" stroke-width="1.25"/>
<line x1="126" y1="591.7" x2="140" y2="591.7" stroke="#1a1a1a" stroke-width="1.25"/>
<line x1="117" y1="589.8" x2="149" y2="589.8" stroke="#111" stroke-width="1.55"/>
<line x1="180.6" y1="586" x2="180.6" y2="589.5" stroke="#1a1a1a" stroke-width="1.25"/>
<line x1="174.6" y1="586" x2="186.6" y2="586" stroke="#1a1a1a" stroke-width="1.25"/>
<line x1="174.6" y1="589.5" x2="186.6" y2="589.5" stroke="#1a1a1a" stroke-width="1.25"/>
<line x1="164.6" y1="587.7" x2="196.6" y2="587.7" stroke="#111" stroke-width="1.55"/>
<line x1="228.3" y1="587.7" x2="228.3" y2="593.8" stroke="#1a1a1a" stroke-width="1.25"/>
<line x1="220.5" y1="587.7" x2="236.10000000000002" y2="587.7" stroke="#1a1a1a" stroke-width="1.25"/>
<line x1="220.5" y1="593.8" x2="236.10000000000002" y2="593.8" stroke="#1a1a1a" stroke-width="1.25"/>
<line x1="212.3" y1="590.8" x2="244.3" y2="590.8" stroke="#111" stroke-width="1.55"/>
<text x="275.0" y="448.8" font-size="14.5" textLength="7.4" lengthAdjust="spacingAndGlyphs" fill="#1c1c1c" stroke="#1c1c1c">F</text>
<text x="413.5" y="445.9" font-size="11.5" text-anchor="middle" textLength="96" lengthAdjust="spacingAndGlyphs" fill="#1c1c1c" stroke="#1c1c1c">Control ADC 4 mg/kg</text>
<line x1="318.4" y1="451.5" x2="318.4" y2="602.9" stroke="#1a1a1a" stroke-width="1.5"/>
<line x1="317.7" y1="602.3" x2="509" y2="602.3" stroke="#1a1a1a" stroke-width="1.5"/>
<line x1="314.4" y1="455.1" x2="318.4" y2="455.1" stroke="#1a1a1a" stroke-width="1.3"/>
<text x="310.7" y="458.3" font-size="8.2" text-anchor="end" textLength="14.2" lengthAdjust="spacingAndGlyphs" fill="#1c1c1c" stroke="#1c1c1c">0.04</text>
<line x1="314.4" y1="491.90000000000003" x2="318.4" y2="491.90000000000003" stroke="#1a1a1a" stroke-width="1.3"/>
<text x="310.7" y="495.1" font-size="8.2" text-anchor="end" textLength="14.2" lengthAdjust="spacingAndGlyphs" fill="#1c1c1c" stroke="#1c1c1c">0.03</text>
<line x1="314.4" y1="528.7" x2="318.4" y2="528.7" stroke="#1a1a1a" stroke-width="1.3"/>
<text x="310.7" y="531.9000000000001" font-size="8.2" text-anchor="end" textLength="14.2" lengthAdjust="spacingAndGlyphs" fill="#1c1c1c" stroke="#1c1c1c">0.02</text>
<line x1="314.4" y1="565.5" x2="318.4" y2="565.5" stroke="#1a1a1a" stroke-width="1.3"/>
<text x="310.7" y="568.7" font-size="8.2" text-anchor="end" textLength="14.2" lengthAdjust="spacingAndGlyphs" fill="#1c1c1c" stroke="#1c1c1c">0.01</text>
<line x1="314.4" y1="602.3" x2="318.4" y2="602.3" stroke="#1a1a1a" stroke-width="1.3"/>
<text x="310.7" y="605.5" font-size="8.2" text-anchor="end" textLength="14.2" lengthAdjust="spacingAndGlyphs" fill="#1c1c1c" stroke="#1c1c1c">0.00</text>
<line x1="342.2" y1="602.3" x2="342.2" y2="605.8" stroke="#1a1a1a" stroke-width="1.2"/>
<line x1="389.8" y1="602.3" x2="389.8" y2="605.8" stroke="#1a1a1a" stroke-width="1.2"/>
<line x1="437.5" y1="602.3" x2="437.5" y2="605.8" stroke="#1a1a1a" stroke-width="1.2"/>
<line x1="485.1" y1="602.3" x2="485.1" y2="605.8" stroke="#1a1a1a" stroke-width="1.2"/>
<text x="288.0" y="523.7" font-size="11" text-anchor="middle" textLength="153.2" lengthAdjust="spacingAndGlyphs" transform="rotate(-90 288.0 523.7)" fill="#1c1c1c" stroke="#1c1c1c">Ab Nb of hCD45<tspan font-size='7.6' dy='-3.6'>+</tspan><tspan dy='3.6'>c-kit</tspan><tspan font-size='7.6' dy='-3.6'>+</tspan><tspan dy='3.6'> cells (M/mL)</tspan></text>
<text x="342.2" y="616.8000000000001" font-size="8.8" text-anchor="middle" textLength="21.5" lengthAdjust="spacingAndGlyphs" fill="#1c1c1c" stroke="#1c1c1c">Before</text>
<text x="342.2" y="626.4" font-size="8.8" text-anchor="middle" textLength="34.5" lengthAdjust="spacingAndGlyphs" fill="#1c1c1c" stroke="#1c1c1c">Treatment</text>
<text x="389.8" y="616.8000000000001" font-size="8.8" text-anchor="middle" textLength="23.7" lengthAdjust="spacingAndGlyphs" fill="#1c1c1c" stroke="#1c1c1c">1 week</text>
<text x="437.5" y="616.8000000000001" font-size="8.8" text-anchor="middle" textLength="26.8" lengthAdjust="spacingAndGlyphs" fill="#1c1c1c" stroke="#1c1c1c">2 weeks</text>
<text x="485.1" y="616.8000000000001" font-size="8.8" text-anchor="middle" textLength="27.4" lengthAdjust="spacingAndGlyphs" fill="#1c1c1c" stroke="#1c1c1c">4 weeks</text>
<line x1="448.9" y1="456.4" x2="448.9" y2="602.3" stroke="#bc4862" stroke-width="1.7" stroke-linecap="round" stroke-dasharray="0.05 4.00"/>
<text x="459.0" y="529.4" font-size="7" text-anchor="middle" textLength="15" lengthAdjust="spacingAndGlyphs" transform="rotate(-90 459.0 529.4)" fill="#b0455e" stroke="#b0455e" style="stroke-width:0.1px">STOP</text>
<line x1="342.2" y1="557.5" x2="342.2" y2="571.3" stroke="#1a1a1a" stroke-width="1.25"/>
<line x1="334.4" y1="557.5" x2="350.0" y2="557.5" stroke="#1a1a1a" stroke-width="1.25"/>
<line x1="334.4" y1="571.3" x2="350.0" y2="571.3" stroke="#1a1a1a" stroke-width="1.25"/>
<line x1="326.2" y1="564.1" x2="358.2" y2="564.1" stroke="#111" stroke-width="1.55"/>
<line x1="389.8" y1="539.6" x2="389.8" y2="560.7" stroke="#1a1a1a" stroke-width="1.25"/>
<line x1="382.0" y1="539.6" x2="397.6" y2="539.6" stroke="#1a1a1a" stroke-width="1.25"/>
<line x1="382.0" y1="560.7" x2="397.6" y2="560.7" stroke="#1a1a1a" stroke-width="1.25"/>
<line x1="373.8" y1="550.3" x2="405.8" y2="550.3" stroke="#111" stroke-width="1.55"/>
<line x1="437.5" y1="557.1" x2="437.5" y2="566" stroke="#1a1a1a" stroke-width="1.25"/>
<line x1="431.5" y1="557.1" x2="443.5" y2="557.1" stroke="#1a1a1a" stroke-width="1.25"/>
<line x1="431.5" y1="566" x2="443.5" y2="566" stroke="#1a1a1a" stroke-width="1.25"/>
<line x1="421.5" y1="562" x2="453.5" y2="562" stroke="#111" stroke-width="1.55"/>
<line x1="485.1" y1="526" x2="485.1" y2="551.2" stroke="#1a1a1a" stroke-width="1.25"/>
<line x1="477.3" y1="526" x2="492.90000000000003" y2="526" stroke="#1a1a1a" stroke-width="1.25"/>
<line x1="477.3" y1="551.2" x2="492.90000000000003" y2="551.2" stroke="#1a1a1a" stroke-width="1.25"/>
<line x1="469.1" y1="538.5" x2="501.1" y2="538.5" stroke="#111" stroke-width="1.55"/>
<text x="10.0" y="653.9" font-size="14.5" textLength="8.8" lengthAdjust="spacingAndGlyphs" fill="#1c1c1c" stroke="#1c1c1c">G</text>
<text x="157" y="650.3" font-size="11.5" text-anchor="middle" textLength="89.2" lengthAdjust="spacingAndGlyphs" fill="#1c1c1c" stroke="#1c1c1c">AGS-16C3F 1 mg/kg</text>
<line x1="61.3" y1="675.75" x2="61.3" y2="826.6" stroke="#1a1a1a" stroke-width="1.5"/>
<line x1="60.599999999999994" y1="826" x2="253" y2="826" stroke="#1a1a1a" stroke-width="1.5"/>
<line x1="57.3" y1="679.3" x2="61.3" y2="679.3" stroke="#1a1a1a" stroke-width="1.3"/>
<text x="54.4" y="682.5" font-size="8.2" text-anchor="end" textLength="14.2" lengthAdjust="spacingAndGlyphs" fill="#1c1c1c" stroke="#1c1c1c">0.04</text>
<line x1="57.3" y1="716.0999999999999" x2="61.3" y2="716.0999999999999" stroke="#1a1a1a" stroke-width="1.3"/>
<text x="54.4" y="719.3" font-size="8.2" text-anchor="end" textLength="14.2" lengthAdjust="spacingAndGlyphs" fill="#1c1c1c" stroke="#1c1c1c">0.03</text>
<line x1="57.3" y1="752.9" x2="61.3" y2="752.9" stroke="#1a1a1a" stroke-width="1.3"/>
<text x="54.4" y="756.1" font-size="8.2" text-anchor="end" textLength="14.2" lengthAdjust="spacingAndGlyphs" fill="#1c1c1c" stroke="#1c1c1c">0.02</text>
<line x1="57.3" y1="789.6999999999999" x2="61.3" y2="789.6999999999999" stroke="#1a1a1a" stroke-width="1.3"/>
<text x="54.4" y="792.9" font-size="8.2" text-anchor="end" textLength="14.2" lengthAdjust="spacingAndGlyphs" fill="#1c1c1c" stroke="#1c1c1c">0.01</text>
<line x1="57.3" y1="826.5" x2="61.3" y2="826.5" stroke="#1a1a1a" stroke-width="1.3"/>
<text x="54.4" y="829.7" font-size="8.2" text-anchor="end" textLength="14.2" lengthAdjust="spacingAndGlyphs" fill="#1c1c1c" stroke="#1c1c1c">0.00</text>
<line x1="85" y1="826" x2="85" y2="829.5" stroke="#1a1a1a" stroke-width="1.2"/>
<line x1="133" y1="826" x2="133" y2="829.5" stroke="#1a1a1a" stroke-width="1.2"/>
<line x1="180.6" y1="826" x2="180.6" y2="829.5" stroke="#1a1a1a" stroke-width="1.2"/>
<line x1="228.3" y1="826" x2="228.3" y2="829.5" stroke="#1a1a1a" stroke-width="1.2"/>
<text x="31.4" y="748.3" font-size="11" text-anchor="middle" textLength="152.2" lengthAdjust="spacingAndGlyphs" transform="rotate(-90 31.4 748.3)" fill="#1c1c1c" stroke="#1c1c1c">Ab Nb of hCD45<tspan font-size='7.6' dy='-3.6'>+</tspan><tspan dy='3.6'>c-kit</tspan><tspan font-size='7.6' dy='-3.6'>+</tspan><tspan dy='3.6'> cells (M/mL)</tspan></text>
<text x="85" y="840.7" font-size="8.8" text-anchor="middle" textLength="21.5" lengthAdjust="spacingAndGlyphs" fill="#1c1c1c" stroke="#1c1c1c">Before</text>
<text x="85" y="850.3" font-size="8.8" text-anchor="middle" textLength="34.5" lengthAdjust="spacingAndGlyphs" fill="#1c1c1c" stroke="#1c1c1c">Treatment</text>
<text x="133" y="840.7" font-size="8.8" text-anchor="middle" textLength="23.7" lengthAdjust="spacingAndGlyphs" fill="#1c1c1c" stroke="#1c1c1c">1 week</text>
<text x="180.6" y="840.7" font-size="8.8" text-anchor="middle" textLength="26.8" lengthAdjust="spacingAndGlyphs" fill="#1c1c1c" stroke="#1c1c1c">2 weeks</text>
<text x="228.3" y="840.7" font-size="8.8" text-anchor="middle" textLength="27.4" lengthAdjust="spacingAndGlyphs" fill="#1c1c1c" stroke="#1c1c1c">4 weeks</text>
<line x1="85" y1="679.0" x2="228.3" y2="679.0" stroke="#2e2e2e" stroke-width="1.35"/>
<line x1="85" y1="678.35" x2="85" y2="682.9" stroke="#2e2e2e" stroke-width="1.35"/>
<line x1="228.3" y1="678.35" x2="228.3" y2="682.9" stroke="#2e2e2e" stroke-width="1.35"/>
<rect x="154.45" y="675.00" width="1.9" height="2.1" rx="0.5" fill="#3a3a3a"/>
<rect x="157.65" y="675.00" width="1.9" height="2.1" rx="0.5" fill="#3a3a3a"/>
<line x1="85" y1="689.0" x2="180.6" y2="689.0" stroke="#2e2e2e" stroke-width="1.35"/>
<line x1="85" y1="688.35" x2="85" y2="692.9" stroke="#2e2e2e" stroke-width="1.35"/>
<line x1="180.6" y1="688.35" x2="180.6" y2="692.9" stroke="#2e2e2e" stroke-width="1.35"/>
<rect x="130.45" y="685.00" width="1.9" height="2.1" rx="0.5" fill="#3a3a3a"/>
<rect x="133.65" y="685.00" width="1.9" height="2.1" rx="0.5" fill="#3a3a3a"/>
<line x1="85" y1="698.8" x2="132.5" y2="698.8" stroke="#2e2e2e" stroke-width="1.35"/>
<line x1="85" y1="698.15" x2="85" y2="702.6999999999999" stroke="#2e2e2e" stroke-width="1.35"/>
<line x1="132.5" y1="698.15" x2="132.5" y2="702.6999999999999" stroke="#2e2e2e" stroke-width="1.35"/>
<rect x="107.65" y="694.80" width="1.9" height="2.1" rx="0.5" fill="#3a3a3a"/>
<line x1="200" y1="680.4" x2="200" y2="825" stroke="#bc4862" stroke-width="1.7" stroke-linecap="round" stroke-dasharray="0.05 4.00"/>
<text x="209.9" y="753.5" font-size="7" text-anchor="middle" textLength="15" lengthAdjust="spacingAndGlyphs" transform="rotate(-90 209.9 753.5)" fill="#b0455e" stroke="#b0455e" style="stroke-width:0.1px">STOP</text>
<line x1="85" y1="782.5" x2="85" y2="792.5" stroke="#1a1a1a" stroke-width="1.25"/>
<line x1="77.2" y1="782.5" x2="92.8" y2="782.5" stroke="#1a1a1a" stroke-width="1.25"/>
<line x1="77.2" y1="792.5" x2="92.8" y2="792.5" stroke="#1a1a1a" stroke-width="1.25"/>
<line x1="69" y1="787.5" x2="101" y2="787.5" stroke="#111" stroke-width="1.55"/>
<line x1="133" y1="799.4" x2="133" y2="810.8" stroke="#1a1a1a" stroke-width="1.25"/>
<line x1="125.2" y1="799.4" x2="140.8" y2="799.4" stroke="#1a1a1a" stroke-width="1.25"/>
<line x1="125.2" y1="810.8" x2="140.8" y2="810.8" stroke="#1a1a1a" stroke-width="1.25"/>
<line x1="117" y1="805.2" x2="149" y2="805.2" stroke="#111" stroke-width="1.55"/>
<line x1="180.6" y1="812" x2="180.6" y2="814.6" stroke="#1a1a1a" stroke-width="1.25"/>
<line x1="174.6" y1="812" x2="186.6" y2="812" stroke="#1a1a1a" stroke-width="1.25"/>
<line x1="174.6" y1="814.6" x2="186.6" y2="814.6" stroke="#1a1a1a" stroke-width="1.25"/>
<line x1="164.6" y1="813.4" x2="196.6" y2="813.4" stroke="#111" stroke-width="1.55"/>
<line x1="228.3" y1="816.3" x2="228.3" y2="819" stroke="#1a1a1a" stroke-width="1.25"/>
<line x1="222.3" y1="816.3" x2="234.3" y2="816.3" stroke="#1a1a1a" stroke-width="1.25"/>
<line x1="222.3" y1="819" x2="234.3" y2="819" stroke="#1a1a1a" stroke-width="1.25"/>
<line x1="212.3" y1="817.5" x2="244.3" y2="817.5" stroke="#111" stroke-width="1.55"/>
<text x="273.2" y="653.4" font-size="14.5" textLength="9.2" lengthAdjust="spacingAndGlyphs" fill="#1c1c1c" stroke="#1c1c1c">H</text>
<text x="413.5" y="650.2" font-size="11.5" text-anchor="middle" textLength="96" lengthAdjust="spacingAndGlyphs" fill="#1c1c1c" stroke="#1c1c1c">Control ADC 1 mg/kg</text>
<line x1="318.4" y1="675.75" x2="318.4" y2="826.6" stroke="#1a1a1a" stroke-width="1.5"/>
<line x1="317.7" y1="826" x2="509" y2="826" stroke="#1a1a1a" stroke-width="1.5"/>
<line x1="314.4" y1="679.3" x2="318.4" y2="679.3" stroke="#1a1a1a" stroke-width="1.3"/>
<text x="310.7" y="682.5" font-size="8.2" text-anchor="end" textLength="14.2" lengthAdjust="spacingAndGlyphs" fill="#1c1c1c" stroke="#1c1c1c">0.04</text>
<line x1="314.4" y1="716.0999999999999" x2="318.4" y2="716.0999999999999" stroke="#1a1a1a" stroke-width="1.3"/>
<text x="310.7" y="719.3" font-size="8.2" text-anchor="end" textLength="14.2" lengthAdjust="spacingAndGlyphs" fill="#1c1c1c" stroke="#1c1c1c">0.03</text>
<line x1="314.4" y1="752.9" x2="318.4" y2="752.9" stroke="#1a1a1a" stroke-width="1.3"/>
<text x="310.7" y="756.1" font-size="8.2" text-anchor="end" textLength="14.2" lengthAdjust="spacingAndGlyphs" fill="#1c1c1c" stroke="#1c1c1c">0.02</text>
<line x1="314.4" y1="789.6999999999999" x2="318.4" y2="789.6999999999999" stroke="#1a1a1a" stroke-width="1.3"/>
<text x="310.7" y="792.9" font-size="8.2" text-anchor="end" textLength="14.2" lengthAdjust="spacingAndGlyphs" fill="#1c1c1c" stroke="#1c1c1c">0.01</text>
<line x1="314.4" y1="826.5" x2="318.4" y2="826.5" stroke="#1a1a1a" stroke-width="1.3"/>
<text x="310.7" y="829.7" font-size="8.2" text-anchor="end" textLength="14.2" lengthAdjust="spacingAndGlyphs" fill="#1c1c1c" stroke="#1c1c1c">0.00</text>
<line x1="342.2" y1="826" x2="342.2" y2="829.5" stroke="#1a1a1a" stroke-width="1.2"/>
<line x1="389.8" y1="826" x2="389.8" y2="829.5" stroke="#1a1a1a" stroke-width="1.2"/>
<line x1="437.5" y1="826" x2="437.5" y2="829.5" stroke="#1a1a1a" stroke-width="1.2"/>
<line x1="485.1" y1="826" x2="485.1" y2="829.5" stroke="#1a1a1a" stroke-width="1.2"/>
<text x="288.0" y="748.0" font-size="11" text-anchor="middle" textLength="152.2" lengthAdjust="spacingAndGlyphs" transform="rotate(-90 288.0 748.0)" fill="#1c1c1c" stroke="#1c1c1c">Ab Nb of hCD45<tspan font-size='7.6' dy='-3.6'>+</tspan><tspan dy='3.6'>c-kit</tspan><tspan font-size='7.6' dy='-3.6'>+</tspan><tspan dy='3.6'> cells (M/mL)</tspan></text>
<text x="342.2" y="840.3000000000001" font-size="8.8" text-anchor="middle" textLength="21.5" lengthAdjust="spacingAndGlyphs" fill="#1c1c1c" stroke="#1c1c1c">Before</text>
<text x="342.2" y="849.9" font-size="8.8" text-anchor="middle" textLength="34.5" lengthAdjust="spacingAndGlyphs" fill="#1c1c1c" stroke="#1c1c1c">Treatment</text>
<text x="389.8" y="840.3000000000001" font-size="8.8" text-anchor="middle" textLength="23.7" lengthAdjust="spacingAndGlyphs" fill="#1c1c1c" stroke="#1c1c1c">1 week</text>
<text x="437.5" y="840.3000000000001" font-size="8.8" text-anchor="middle" textLength="26.8" lengthAdjust="spacingAndGlyphs" fill="#1c1c1c" stroke="#1c1c1c">2 weeks</text>
<text x="485.1" y="840.3000000000001" font-size="8.8" text-anchor="middle" textLength="27.4" lengthAdjust="spacingAndGlyphs" fill="#1c1c1c" stroke="#1c1c1c">4 weeks</text>
<line x1="342" y1="661.6" x2="485" y2="661.6" stroke="#2e2e2e" stroke-width="1.35"/>
<line x1="342" y1="660.95" x2="342" y2="665.5" stroke="#2e2e2e" stroke-width="1.35"/>
<line x1="485" y1="660.95" x2="485" y2="665.5" stroke="#2e2e2e" stroke-width="1.35"/>
<rect x="411.05" y="657.60" width="1.9" height="2.1" rx="0.5" fill="#3a3a3a"/>
<rect x="414.25" y="657.60" width="1.9" height="2.1" rx="0.5" fill="#3a3a3a"/>
<line x1="390" y1="671.0" x2="485" y2="671.0" stroke="#2e2e2e" stroke-width="1.35"/>
<line x1="390" y1="670.35" x2="390" y2="674.9" stroke="#2e2e2e" stroke-width="1.35"/>
<line x1="485" y1="670.35" x2="485" y2="674.9" stroke="#2e2e2e" stroke-width="1.35"/>
<rect x="434.75" y="667.00" width="1.9" height="2.1" rx="0.5" fill="#3a3a3a"/>
<rect x="437.95" y="667.00" width="1.9" height="2.1" rx="0.5" fill="#3a3a3a"/>
<line x1="437.3" y1="679.3" x2="485" y2="679.3" stroke="#2e2e2e" stroke-width="1.35"/>
<line x1="437.3" y1="678.65" x2="437.3" y2="683.1999999999999" stroke="#2e2e2e" stroke-width="1.35"/>
<line x1="485" y1="678.65" x2="485" y2="683.1999999999999" stroke="#2e2e2e" stroke-width="1.35"/>
<rect x="461.15" y="675.30" width="1.9" height="2.1" rx="0.5" fill="#3a3a3a"/>
<line x1="447.7" y1="680.1" x2="447.7" y2="825" stroke="#bc4862" stroke-width="1.7" stroke-linecap="round" stroke-dasharray="0.05 4.00"/>
<text x="457.9" y="753.5" font-size="7" text-anchor="middle" textLength="15" lengthAdjust="spacingAndGlyphs" transform="rotate(-90 457.9 753.5)" fill="#b0455e" stroke="#b0455e" style="stroke-width:0.1px">STOP</text>
<line x1="342.2" y1="787.7" x2="342.2" y2="799.3" stroke="#1a1a1a" stroke-width="1.25"/>
<line x1="334.4" y1="787.7" x2="350.0" y2="787.7" stroke="#1a1a1a" stroke-width="1.25"/>
<line x1="334.4" y1="799.3" x2="350.0" y2="799.3" stroke="#1a1a1a" stroke-width="1.25"/>
<line x1="326.2" y1="793" x2="358.2" y2="793" stroke="#111" stroke-width="1.55"/>
<line x1="389.8" y1="776.5" x2="389.8" y2="787.7" stroke="#1a1a1a" stroke-width="1.25"/>
<line x1="382.0" y1="776.5" x2="397.6" y2="776.5" stroke="#1a1a1a" stroke-width="1.25"/>
<line x1="382.0" y1="787.7" x2="397.6" y2="787.7" stroke="#1a1a1a" stroke-width="1.25"/>
<line x1="373.8" y1="782" x2="405.8" y2="782" stroke="#111" stroke-width="1.55"/>
<line x1="437.5" y1="772.3" x2="437.5" y2="787.8" stroke="#1a1a1a" stroke-width="1.25"/>
<line x1="429.7" y1="772.3" x2="445.3" y2="772.3" stroke="#1a1a1a" stroke-width="1.25"/>
<line x1="429.7" y1="787.8" x2="445.3" y2="787.8" stroke="#1a1a1a" stroke-width="1.25"/>
<line x1="421.5" y1="780" x2="453.5" y2="780" stroke="#111" stroke-width="1.55"/>
<line x1="485.1" y1="726.9" x2="485.1" y2="752.5" stroke="#1a1a1a" stroke-width="1.25"/>
<line x1="477.3" y1="726.9" x2="492.90000000000003" y2="726.9" stroke="#1a1a1a" stroke-width="1.25"/>
<line x1="477.3" y1="752.5" x2="492.90000000000003" y2="752.5" stroke="#1a1a1a" stroke-width="1.25"/>
<line x1="469.1" y1="739.6" x2="501.1" y2="739.6" stroke="#111" stroke-width="1.55"/>
<rect x="82.00" y="69.00" width="6" height="6" fill="#3e5a87"/>
<rect x="85.80" y="124.00" width="6" height="6" fill="#3e5a87"/>
<rect x="78.70" y="132.60" width="6" height="6" fill="#3e5a87"/>
<rect x="69.90" y="140.70" width="6" height="6" fill="#3e5a87"/>
<rect x="94.50" y="139.10" width="6" height="6" fill="#3e5a87"/>
<rect x="75.80" y="144.70" width="6" height="6" fill="#3e5a87"/>
<rect x="81.90" y="146.90" width="6" height="6" fill="#3e5a87"/>
<rect x="88.00" y="144.60" width="6" height="6" fill="#3e5a87"/>
<rect x="78.60" y="159.00" width="6" height="6" fill="#3e5a87"/>
<rect x="85.80" y="157.00" width="6" height="6" fill="#3e5a87"/>
<circle cx="128.8" cy="150.8" r="3.25" fill="#a0263e"/>
<circle cx="140.8" cy="155.6" r="3.25" fill="#a0263e"/>
<circle cx="122.5" cy="163.5" r="3.25" fill="#a0263e"/>
<circle cx="126.3" cy="164.8" r="3.25" fill="#a0263e"/>
<circle cx="130.8" cy="166.2" r="3.25" fill="#a0263e"/>
<circle cx="135" cy="163.8" r="3.25" fill="#a0263e"/>
<circle cx="138.8" cy="162.3" r="3.25" fill="#a0263e"/>
<circle cx="143" cy="162" r="3.25" fill="#a0263e"/>
<circle cx="128.3" cy="162" r="3.25" fill="#a0263e"/>
<circle cx="137" cy="160.4" r="3.25" fill="#a0263e"/>
<rect x="174.45" y="106.45" width="4.9" height="4.9" fill="#fff" stroke="#3e5a87" stroke-width="1.45"/>
<rect x="186.05" y="111.75" width="4.9" height="4.9" fill="#fff" stroke="#3e5a87" stroke-width="1.45"/>
<rect x="182.05" y="116.15" width="4.9" height="4.9" fill="#fff" stroke="#3e5a87" stroke-width="1.45"/>
<rect x="174.45" y="123.35" width="4.9" height="4.9" fill="#fff" stroke="#3e5a87" stroke-width="1.45"/>
<rect x="174.45" y="141.35" width="4.9" height="4.9" fill="#fff" stroke="#3e5a87" stroke-width="1.45"/>
<rect x="182.05" y="147.85" width="4.9" height="4.9" fill="#fff" stroke="#3e5a87" stroke-width="1.45"/>
<rect x="166.55" y="160.55" width="4.9" height="4.9" fill="#fff" stroke="#3e5a87" stroke-width="1.45"/>
<rect x="174.45" y="162.55" width="4.9" height="4.9" fill="#fff" stroke="#3e5a87" stroke-width="1.45"/>
<rect x="182.05" y="161.65" width="4.9" height="4.9" fill="#fff" stroke="#3e5a87" stroke-width="1.45"/>
<rect x="189.85" y="157.85" width="4.9" height="4.9" fill="#fff" stroke="#3e5a87" stroke-width="1.45"/>
<circle cx="220.9" cy="131.7" r="2.55" fill="#fff" stroke="#a0263e" stroke-width="1.45"/>
<circle cx="236.1" cy="134.3" r="2.55" fill="#fff" stroke="#a0263e" stroke-width="1.45"/>
<circle cx="228.3" cy="139.6" r="2.55" fill="#fff" stroke="#a0263e" stroke-width="1.45"/>
<circle cx="228.3" cy="150.3" r="2.55" fill="#fff" stroke="#a0263e" stroke-width="1.45"/>
<circle cx="215.2" cy="161.3" r="2.55" fill="#fff" stroke="#a0263e" stroke-width="1.45"/>
<circle cx="220.4" cy="165.6" r="2.55" fill="#fff" stroke="#a0263e" stroke-width="1.45"/>
<circle cx="225.7" cy="168.1" r="2.55" fill="#fff" stroke="#a0263e" stroke-width="1.45"/>
<circle cx="231" cy="166.2" r="2.55" fill="#fff" stroke="#a0263e" stroke-width="1.45"/>
<circle cx="236.3" cy="164.1" r="2.55" fill="#fff" stroke="#a0263e" stroke-width="1.45"/>
<circle cx="241.6" cy="159.9" r="2.55" fill="#fff" stroke="#a0263e" stroke-width="1.45"/>
<rect x="339.00" y="50.75" width="6" height="6" fill="#3e5a87"/>
<rect x="331.30" y="111.60" width="6" height="6" fill="#3e5a87"/>
<rect x="339.20" y="109.30" width="6" height="6" fill="#3e5a87"/>
<rect x="346.60" y="112.00" width="6" height="6" fill="#3e5a87"/>
<rect x="339.20" y="118.30" width="6" height="6" fill="#3e5a87"/>
<rect x="335.10" y="129.30" width="6" height="6" fill="#3e5a87"/>
<rect x="343.00" y="135.70" width="6" height="6" fill="#3e5a87"/>
<rect x="331.30" y="141.20" width="6" height="6" fill="#3e5a87"/>
<rect x="339.20" y="149.40" width="6" height="6" fill="#3e5a87"/>
<rect x="346.60" y="148.60" width="6" height="6" fill="#3e5a87"/>
<circle cx="389.8" cy="150.3" r="3.25" fill="#a0263e"/>
<circle cx="381.9" cy="160.5" r="3.25" fill="#a0263e"/>
<circle cx="389.8" cy="160.9" r="3.25" fill="#a0263e"/>
<circle cx="397.4" cy="158.4" r="3.25" fill="#a0263e"/>
<circle cx="403.1" cy="162" r="3.25" fill="#a0263e"/>
<circle cx="376.6" cy="165.1" r="3.25" fill="#a0263e"/>
<circle cx="381.9" cy="166.8" r="3.25" fill="#a0263e"/>
<circle cx="387.2" cy="170" r="3.25" fill="#a0263e"/>
<circle cx="392.5" cy="169" r="3.25" fill="#a0263e"/>
<circle cx="397.8" cy="166.8" r="3.25" fill="#a0263e"/>
<rect x="435.05" y="70.65" width="4.9" height="4.9" fill="#fff" stroke="#3e5a87" stroke-width="1.45"/>
<rect x="438.85" y="89.95" width="4.9" height="4.9" fill="#fff" stroke="#3e5a87" stroke-width="1.45"/>
<rect x="431.25" y="96.25" width="4.9" height="4.9" fill="#fff" stroke="#3e5a87" stroke-width="1.45"/>
<rect x="431.25" y="114.25" width="4.9" height="4.9" fill="#fff" stroke="#3e5a87" stroke-width="1.45"/>
<rect x="438.85" y="118.25" width="4.9" height="4.9" fill="#fff" stroke="#3e5a87" stroke-width="1.45"/>
<rect x="435.05" y="129.45" width="4.9" height="4.9" fill="#fff" stroke="#3e5a87" stroke-width="1.45"/>
<rect x="431.25" y="142.55" width="4.9" height="4.9" fill="#fff" stroke="#3e5a87" stroke-width="1.45"/>
<rect x="438.85" y="143.65" width="4.9" height="4.9" fill="#fff" stroke="#3e5a87" stroke-width="1.45"/>
<rect x="431.25" y="154.85" width="4.9" height="4.9" fill="#fff" stroke="#3e5a87" stroke-width="1.45"/>
<rect x="438.85" y="154.45" width="4.9" height="4.9" fill="#fff" stroke="#3e5a87" stroke-width="1.45"/>
<circle cx="488.9" cy="142.5" r="2.55" fill="#fff" stroke="#a0263e" stroke-width="1.45"/>
<circle cx="481.5" cy="145.7" r="2.55" fill="#fff" stroke="#a0263e" stroke-width="1.45"/>
<circle cx="472.8" cy="153.7" r="2.55" fill="#fff" stroke="#a0263e" stroke-width="1.45"/>
<circle cx="479.2" cy="155.2" r="2.55" fill="#fff" stroke="#a0263e" stroke-width="1.45"/>
<circle cx="485.1" cy="155.6" r="2.55" fill="#fff" stroke="#a0263e" stroke-width="1.45"/>
<circle cx="491.4" cy="154.6" r="2.55" fill="#fff" stroke="#a0263e" stroke-width="1.45"/>
<circle cx="497.6" cy="151.4" r="2.55" fill="#fff" stroke="#a0263e" stroke-width="1.45"/>
<circle cx="477.3" cy="161.1" r="2.55" fill="#fff" stroke="#a0263e" stroke-width="1.45"/>
<circle cx="492.9" cy="161.1" r="2.55" fill="#fff" stroke="#a0263e" stroke-width="1.45"/>
<circle cx="485.1" cy="169.2" r="2.55" fill="#fff" stroke="#a0263e" stroke-width="1.45"/>
<rect x="82.00" y="285.00" width="6" height="6" fill="#3e5a87"/>
<rect x="85.75" y="296.25" width="6" height="6" fill="#3e5a87"/>
<rect x="74.50" y="304.50" width="6" height="6" fill="#3e5a87"/>
<rect x="78.25" y="309.50" width="6" height="6" fill="#3e5a87"/>
<rect x="85.75" y="315.00" width="6" height="6" fill="#3e5a87"/>
<rect x="82.00" y="334.50" width="6" height="6" fill="#3e5a87"/>
<circle cx="129.2" cy="380.6" r="3.25" fill="#a0263e"/>
<circle cx="140" cy="381.5" r="3.25" fill="#a0263e"/>
<circle cx="121" cy="389.2" r="3.25" fill="#a0263e"/>
<circle cx="129.2" cy="390.8" r="3.25" fill="#a0263e"/>
<circle cx="136.9" cy="389.8" r="3.25" fill="#a0263e"/>
<circle cx="144.6" cy="386.8" r="3.25" fill="#a0263e"/>
<rect x="178.15" y="265.05" width="4.9" height="4.9" fill="#fff" stroke="#3e5a87" stroke-width="1.45"/>
<rect x="170.55" y="312.05" width="4.9" height="4.9" fill="#fff" stroke="#3e5a87" stroke-width="1.45"/>
<rect x="178.15" y="314.55" width="4.9" height="4.9" fill="#fff" stroke="#3e5a87" stroke-width="1.45"/>
<rect x="186.15" y="314.55" width="4.9" height="4.9" fill="#fff" stroke="#3e5a87" stroke-width="1.45"/>
<rect x="178.15" y="324.55" width="4.9" height="4.9" fill="#fff" stroke="#3e5a87" stroke-width="1.45"/>
<rect x="178.15" y="340.55" width="4.9" height="4.9" fill="#fff" stroke="#3e5a87" stroke-width="1.45"/>
<circle cx="228.3" cy="309.2" r="2.55" fill="#fff" stroke="#a0263e" stroke-width="1.45"/>
<circle cx="232.3" cy="340" r="2.55" fill="#fff" stroke="#a0263e" stroke-width="1.45"/>
<circle cx="224.6" cy="345.2" r="2.55" fill="#fff" stroke="#a0263e" stroke-width="1.45"/>
<circle cx="224.6" cy="364.6" r="2.55" fill="#fff" stroke="#a0263e" stroke-width="1.45"/>
<circle cx="232.3" cy="366.2" r="2.55" fill="#fff" stroke="#a0263e" stroke-width="1.45"/>
<circle cx="228.3" cy="383" r="2.55" fill="#fff" stroke="#a0263e" stroke-width="1.45"/>
<rect x="331.20" y="285.50" width="6" height="6" fill="#3e5a87"/>
<rect x="346.60" y="284.00" width="6" height="6" fill="#3e5a87"/>
<rect x="339.00" y="289.00" width="6" height="6" fill="#3e5a87"/>
<rect x="339.00" y="299.40" width="6" height="6" fill="#3e5a87"/>
<circle cx="390" cy="340.7" r="3.25" fill="#a0263e"/>
<circle cx="382.4" cy="345.3" r="3.25" fill="#a0263e"/>
<circle cx="390" cy="352.7" r="3.25" fill="#a0263e"/>
<circle cx="397.6" cy="350.8" r="3.25" fill="#a0263e"/>
<rect x="431.05" y="285.35" width="4.9" height="4.9" fill="#fff" stroke="#3e5a87" stroke-width="1.45"/>
<rect x="442.55" y="289.45" width="4.9" height="4.9" fill="#fff" stroke="#3e5a87" stroke-width="1.45"/>
<rect x="438.55" y="297.55" width="4.9" height="4.9" fill="#fff" stroke="#3e5a87" stroke-width="1.45"/>
<rect x="431.05" y="302.55" width="4.9" height="4.9" fill="#fff" stroke="#3e5a87" stroke-width="1.45"/>
<circle cx="473.8" cy="331.2" r="2.55" fill="#fff" stroke="#a0263e" stroke-width="1.45"/>
<circle cx="496.9" cy="327.2" r="2.55" fill="#fff" stroke="#a0263e" stroke-width="1.45"/>
<circle cx="481.2" cy="335.8" r="2.55" fill="#fff" stroke="#a0263e" stroke-width="1.45"/>
<circle cx="488.8" cy="334.6" r="2.55" fill="#fff" stroke="#a0263e" stroke-width="1.45"/>
<circle cx="88.75" cy="510.5" r="3.25" fill="#a0263e"/>
<circle cx="81.25" cy="517.5" r="3.25" fill="#a0263e"/>
<circle cx="81.25" cy="543.25" r="3.25" fill="#a0263e"/>
<circle cx="89.25" cy="547" r="3.25" fill="#a0263e"/>
<circle cx="85" cy="558" r="3.25" fill="#a0263e"/>
<circle cx="77.5" cy="569" r="3.25" fill="#a0263e"/>
<circle cx="85" cy="573" r="3.25" fill="#a0263e"/>
<circle cx="93" cy="569" r="3.25" fill="#a0263e"/>
<circle cx="81.25" cy="583.75" r="3.25" fill="#a0263e"/>
<circle cx="89.25" cy="583.75" r="3.25" fill="#a0263e"/>
<circle cx="120.7" cy="583.7" r="3.25" fill="#a0263e"/>
<circle cx="145.1" cy="583.7" r="3.25" fill="#a0263e"/>
<circle cx="125.6" cy="586.8" r="3.25" fill="#a0263e"/>
<circle cx="129.9" cy="586.8" r="3.25" fill="#a0263e"/>
<circle cx="134.2" cy="586.8" r="3.25" fill="#a0263e"/>
<circle cx="138.6" cy="586.8" r="3.25" fill="#a0263e"/>
<circle cx="142" cy="586.8" r="3.25" fill="#a0263e"/>
<circle cx="125.2" cy="594.6" r="3.25" fill="#a0263e"/>
<circle cx="133" cy="598.4" r="3.25" fill="#a0263e"/>
<circle cx="140.5" cy="598.4" r="3.25" fill="#a0263e"/>
<circle cx="180.6" cy="569" r="3.25" fill="#a0263e"/>
<circle cx="168.8" cy="586.8" r="3.25" fill="#a0263e"/>
<circle cx="192.7" cy="586.8" r="3.25" fill="#a0263e"/>
<circle cx="172.5" cy="590" r="3.25" fill="#a0263e"/>
<circle cx="177" cy="591.5" r="3.25" fill="#a0263e"/>
<circle cx="181" cy="592" r="3.25" fill="#a0263e"/>
<circle cx="185.5" cy="591.5" r="3.25" fill="#a0263e"/>
<circle cx="189" cy="590" r="3.25" fill="#a0263e"/>
<circle cx="180.6" cy="594.6" r="3.25" fill="#a0263e"/>
<circle cx="224.6" cy="580" r="3.25" fill="#a0263e"/>
<circle cx="232.3" cy="584" r="3.25" fill="#a0263e"/>
<circle cx="240" cy="590.8" r="3.25" fill="#a0263e"/>
<circle cx="216.9" cy="594.8" r="3.25" fill="#a0263e"/>
<circle cx="224.6" cy="598.5" r="3.25" fill="#a0263e"/>
<circle cx="232.3" cy="598.5" r="3.25" fill="#a0263e"/>
<rect x="339.20" y="511.20" width="6" height="6" fill="#3e5a87"/>
<rect x="339.20" y="540.40" width="6" height="6" fill="#3e5a87"/>
<rect x="331.30" y="555.20" width="6" height="6" fill="#3e5a87"/>
<rect x="339.20" y="562.60" width="6" height="6" fill="#3e5a87"/>
<rect x="346.80" y="563.00" width="6" height="6" fill="#3e5a87"/>
<rect x="335.10" y="566.40" width="6" height="6" fill="#3e5a87"/>
<rect x="343.00" y="573.60" width="6" height="6" fill="#3e5a87"/>
<rect x="331.30" y="577.00" width="6" height="6" fill="#3e5a87"/>
<rect x="346.80" y="581.00" width="6" height="6" fill="#3e5a87"/>
<rect x="339.20" y="584.20" width="6" height="6" fill="#3e5a87"/>
<rect x="386.80" y="470.70" width="6" height="6" fill="#3e5a87"/>
<rect x="383.20" y="522.40" width="6" height="6" fill="#3e5a87"/>
<rect x="391.00" y="529.80" width="6" height="6" fill="#3e5a87"/>
<rect x="379.00" y="544.20" width="6" height="6" fill="#3e5a87"/>
<rect x="386.80" y="552.00" width="6" height="6" fill="#3e5a87"/>
<rect x="394.40" y="552.00" width="6" height="6" fill="#3e5a87"/>
<rect x="386.80" y="570.00" width="6" height="6" fill="#3e5a87"/>
<rect x="379.00" y="573.60" width="6" height="6" fill="#3e5a87"/>
<rect x="394.40" y="577.40" width="6" height="6" fill="#3e5a87"/>
<rect x="386.80" y="581.00" width="6" height="6" fill="#3e5a87"/>
<rect x="434.10" y="529.40" width="6" height="6" fill="#3e5a87"/>
<rect x="434.10" y="547.80" width="6" height="6" fill="#3e5a87"/>
<rect x="445.70" y="551.60" width="6" height="6" fill="#3e5a87"/>
<rect x="426.50" y="554.50" width="6" height="6" fill="#3e5a87"/>
<rect x="426.50" y="558.30" width="6" height="6" fill="#3e5a87"/>
<rect x="438.10" y="558.80" width="6" height="6" fill="#3e5a87"/>
<rect x="430.30" y="562.60" width="6" height="6" fill="#3e5a87"/>
<rect x="441.90" y="570.00" width="6" height="6" fill="#3e5a87"/>
<rect x="438.10" y="573.60" width="6" height="6" fill="#3e5a87"/>
<rect x="430.30" y="581.00" width="6" height="6" fill="#3e5a87"/>
<rect x="482.20" y="485.50" width="6" height="6" fill="#3e5a87"/>
<rect x="482.10" y="507.20" width="6" height="6" fill="#3e5a87"/>
<rect x="478.90" y="551.60" width="6" height="6" fill="#3e5a87"/>
<rect x="489.90" y="551.60" width="6" height="6" fill="#3e5a87"/>
<rect x="485.90" y="555.20" width="6" height="6" fill="#3e5a87"/>
<rect x="478.90" y="562.60" width="6" height="6" fill="#3e5a87"/>
<circle cx="85" cy="748.75" r="2.55" fill="#fff" stroke="#a0263e" stroke-width="1.45"/>
<circle cx="73" cy="782" r="2.55" fill="#fff" stroke="#a0263e" stroke-width="1.45"/>
<circle cx="97.5" cy="782" r="2.55" fill="#fff" stroke="#a0263e" stroke-width="1.45"/>
<circle cx="79.5" cy="785.5" r="2.55" fill="#fff" stroke="#a0263e" stroke-width="1.45"/>
<circle cx="85" cy="785.5" r="2.55" fill="#fff" stroke="#a0263e" stroke-width="1.45"/>
<circle cx="91.25" cy="785.5" r="2.55" fill="#fff" stroke="#a0263e" stroke-width="1.45"/>
<circle cx="73.75" cy="800.5" r="2.55" fill="#fff" stroke="#a0263e" stroke-width="1.45"/>
<circle cx="97" cy="796.25" r="2.55" fill="#fff" stroke="#a0263e" stroke-width="1.45"/>
<circle cx="81.25" cy="804" r="2.55" fill="#fff" stroke="#a0263e" stroke-width="1.45"/>
<circle cx="88.75" cy="804" r="2.55" fill="#fff" stroke="#a0263e" stroke-width="1.45"/>
<circle cx="133" cy="763.7" r="2.55" fill="#fff" stroke="#a0263e" stroke-width="1.45"/>
<circle cx="136.9" cy="789.2" r="2.55" fill="#fff" stroke="#a0263e" stroke-width="1.45"/>
<circle cx="129.2" cy="797" r="2.55" fill="#fff" stroke="#a0263e" stroke-width="1.45"/>
<circle cx="125.2" cy="810.8" r="2.55" fill="#fff" stroke="#a0263e" stroke-width="1.45"/>
<circle cx="133" cy="810.8" r="2.55" fill="#fff" stroke="#a0263e" stroke-width="1.45"/>
<circle cx="140.6" cy="807.7" r="2.55" fill="#fff" stroke="#a0263e" stroke-width="1.45"/>
<circle cx="121" cy="814.8" r="2.55" fill="#fff" stroke="#a0263e" stroke-width="1.45"/>
<circle cx="144.6" cy="814.8" r="2.55" fill="#fff" stroke="#a0263e" stroke-width="1.45"/>
<circle cx="129.2" cy="822.5" r="2.55" fill="#fff" stroke="#a0263e" stroke-width="1.45"/>
<circle cx="136.9" cy="822.5" r="2.55" fill="#fff" stroke="#a0263e" stroke-width="1.45"/>
<circle cx="180.4" cy="800.4" r="2.55" fill="#fff" stroke="#a0263e" stroke-width="1.45"/>
<circle cx="168.7" cy="811.1" r="2.55" fill="#fff" stroke="#a0263e" stroke-width="1.45"/>
<circle cx="171.8" cy="811.1" r="2.55" fill="#fff" stroke="#a0263e" stroke-width="1.45"/>
<circle cx="192.5" cy="811.1" r="2.55" fill="#fff" stroke="#a0263e" stroke-width="1.45"/>
<circle cx="175.1" cy="815.1" r="2.55" fill="#fff" stroke="#a0263e" stroke-width="1.45"/>
<circle cx="189.8" cy="815.1" r="2.55" fill="#fff" stroke="#a0263e" stroke-width="1.45"/>
<circle cx="177.3" cy="818.6" r="2.55" fill="#fff" stroke="#a0263e" stroke-width="1.45"/>
<circle cx="180.2" cy="818.6" r="2.55" fill="#fff" stroke="#a0263e" stroke-width="1.45"/>
<circle cx="183.4" cy="818.6" r="2.55" fill="#fff" stroke="#a0263e" stroke-width="1.45"/>
<circle cx="186.3" cy="818.6" r="2.55" fill="#fff" stroke="#a0263e" stroke-width="1.45"/>
<circle cx="228.3" cy="810.8" r="2.55" fill="#fff" stroke="#a0263e" stroke-width="1.45"/>
<circle cx="216" cy="814.8" r="2.55" fill="#fff" stroke="#a0263e" stroke-width="1.45"/>
<circle cx="222.2" cy="818.5" r="2.55" fill="#fff" stroke="#a0263e" stroke-width="1.45"/>
<circle cx="228.3" cy="822.5" r="2.55" fill="#fff" stroke="#a0263e" stroke-width="1.45"/>
<circle cx="234.5" cy="822.5" r="2.55" fill="#fff" stroke="#a0263e" stroke-width="1.45"/>
<circle cx="240.6" cy="818.5" r="2.55" fill="#fff" stroke="#a0263e" stroke-width="1.45"/>
<rect x="339.75" y="753.95" width="4.9" height="4.9" fill="#fff" stroke="#3e5a87" stroke-width="1.45"/>
<rect x="335.65" y="779.35" width="4.9" height="4.9" fill="#fff" stroke="#3e5a87" stroke-width="1.45"/>
<rect x="343.55" y="779.35" width="4.9" height="4.9" fill="#fff" stroke="#3e5a87" stroke-width="1.45"/>
<rect x="331.85" y="783.55" width="4.9" height="4.9" fill="#fff" stroke="#3e5a87" stroke-width="1.45"/>
<rect x="347.35" y="786.75" width="4.9" height="4.9" fill="#fff" stroke="#3e5a87" stroke-width="1.45"/>
<rect x="339.75" y="790.55" width="4.9" height="4.9" fill="#fff" stroke="#3e5a87" stroke-width="1.45"/>
<rect x="335.65" y="801.55" width="4.9" height="4.9" fill="#fff" stroke="#3e5a87" stroke-width="1.45"/>
<rect x="347.35" y="804.95" width="4.9" height="4.9" fill="#fff" stroke="#3e5a87" stroke-width="1.45"/>
<rect x="343.55" y="812.35" width="4.9" height="4.9" fill="#fff" stroke="#3e5a87" stroke-width="1.45"/>
<rect x="335.65" y="816.35" width="4.9" height="4.9" fill="#fff" stroke="#3e5a87" stroke-width="1.45"/>
<rect x="379.55" y="749.95" width="4.9" height="4.9" fill="#fff" stroke="#3e5a87" stroke-width="1.45"/>
<rect x="387.35" y="757.35" width="4.9" height="4.9" fill="#fff" stroke="#3e5a87" stroke-width="1.45"/>
<rect x="394.95" y="757.35" width="4.9" height="4.9" fill="#fff" stroke="#3e5a87" stroke-width="1.45"/>
<rect x="374.85" y="783.55" width="4.9" height="4.9" fill="#fff" stroke="#3e5a87" stroke-width="1.45"/>
<rect x="399.55" y="783.55" width="4.9" height="4.9" fill="#fff" stroke="#3e5a87" stroke-width="1.45"/>
<rect x="393.25" y="786.75" width="4.9" height="4.9" fill="#fff" stroke="#3e5a87" stroke-width="1.45"/>
<rect x="381.55" y="790.55" width="4.9" height="4.9" fill="#fff" stroke="#3e5a87" stroke-width="1.45"/>
<rect x="387.35" y="790.55" width="4.9" height="4.9" fill="#fff" stroke="#3e5a87" stroke-width="1.45"/>
<rect x="391.55" y="794.15" width="4.9" height="4.9" fill="#fff" stroke="#3e5a87" stroke-width="1.45"/>
<rect x="383.75" y="801.55" width="4.9" height="4.9" fill="#fff" stroke="#3e5a87" stroke-width="1.45"/>
<rect x="434.85" y="717.05" width="4.9" height="4.9" fill="#fff" stroke="#3e5a87" stroke-width="1.45"/>
<rect x="434.65" y="753.55" width="4.9" height="4.9" fill="#fff" stroke="#3e5a87" stroke-width="1.45"/>
<rect x="446.25" y="775.85" width="4.9" height="4.9" fill="#fff" stroke="#3e5a87" stroke-width="1.45"/>
<rect x="427.65" y="778.95" width="4.9" height="4.9" fill="#fff" stroke="#3e5a87" stroke-width="1.45"/>
<rect x="427.65" y="783.25" width="4.9" height="4.9" fill="#fff" stroke="#3e5a87" stroke-width="1.45"/>
<rect x="438.65" y="783.25" width="4.9" height="4.9" fill="#fff" stroke="#3e5a87" stroke-width="1.45"/>
<rect x="431.25" y="786.85" width="4.9" height="4.9" fill="#fff" stroke="#3e5a87" stroke-width="1.45"/>
<rect x="442.45" y="794.45" width="4.9" height="4.9" fill="#fff" stroke="#3e5a87" stroke-width="1.45"/>
<rect x="438.65" y="798.05" width="4.9" height="4.9" fill="#fff" stroke="#3e5a87" stroke-width="1.45"/>
<rect x="431.25" y="805.05" width="4.9" height="4.9" fill="#fff" stroke="#3e5a87" stroke-width="1.45"/>
<rect x="482.55" y="687.55" width="4.9" height="4.9" fill="#fff" stroke="#3e5a87" stroke-width="1.45"/>
<rect x="474.85" y="728.25" width="4.9" height="4.9" fill="#fff" stroke="#3e5a87" stroke-width="1.45"/>
<rect x="490.05" y="731.35" width="4.9" height="4.9" fill="#fff" stroke="#3e5a87" stroke-width="1.45"/>
<rect x="482.65" y="735.25" width="4.9" height="4.9" fill="#fff" stroke="#3e5a87" stroke-width="1.45"/>
<rect x="482.65" y="757.45" width="4.9" height="4.9" fill="#fff" stroke="#3e5a87" stroke-width="1.45"/>
<rect x="482.65" y="783.25" width="4.9" height="4.9" fill="#fff" stroke="#3e5a87" stroke-width="1.45"/>
</svg>
</div></body></html>
